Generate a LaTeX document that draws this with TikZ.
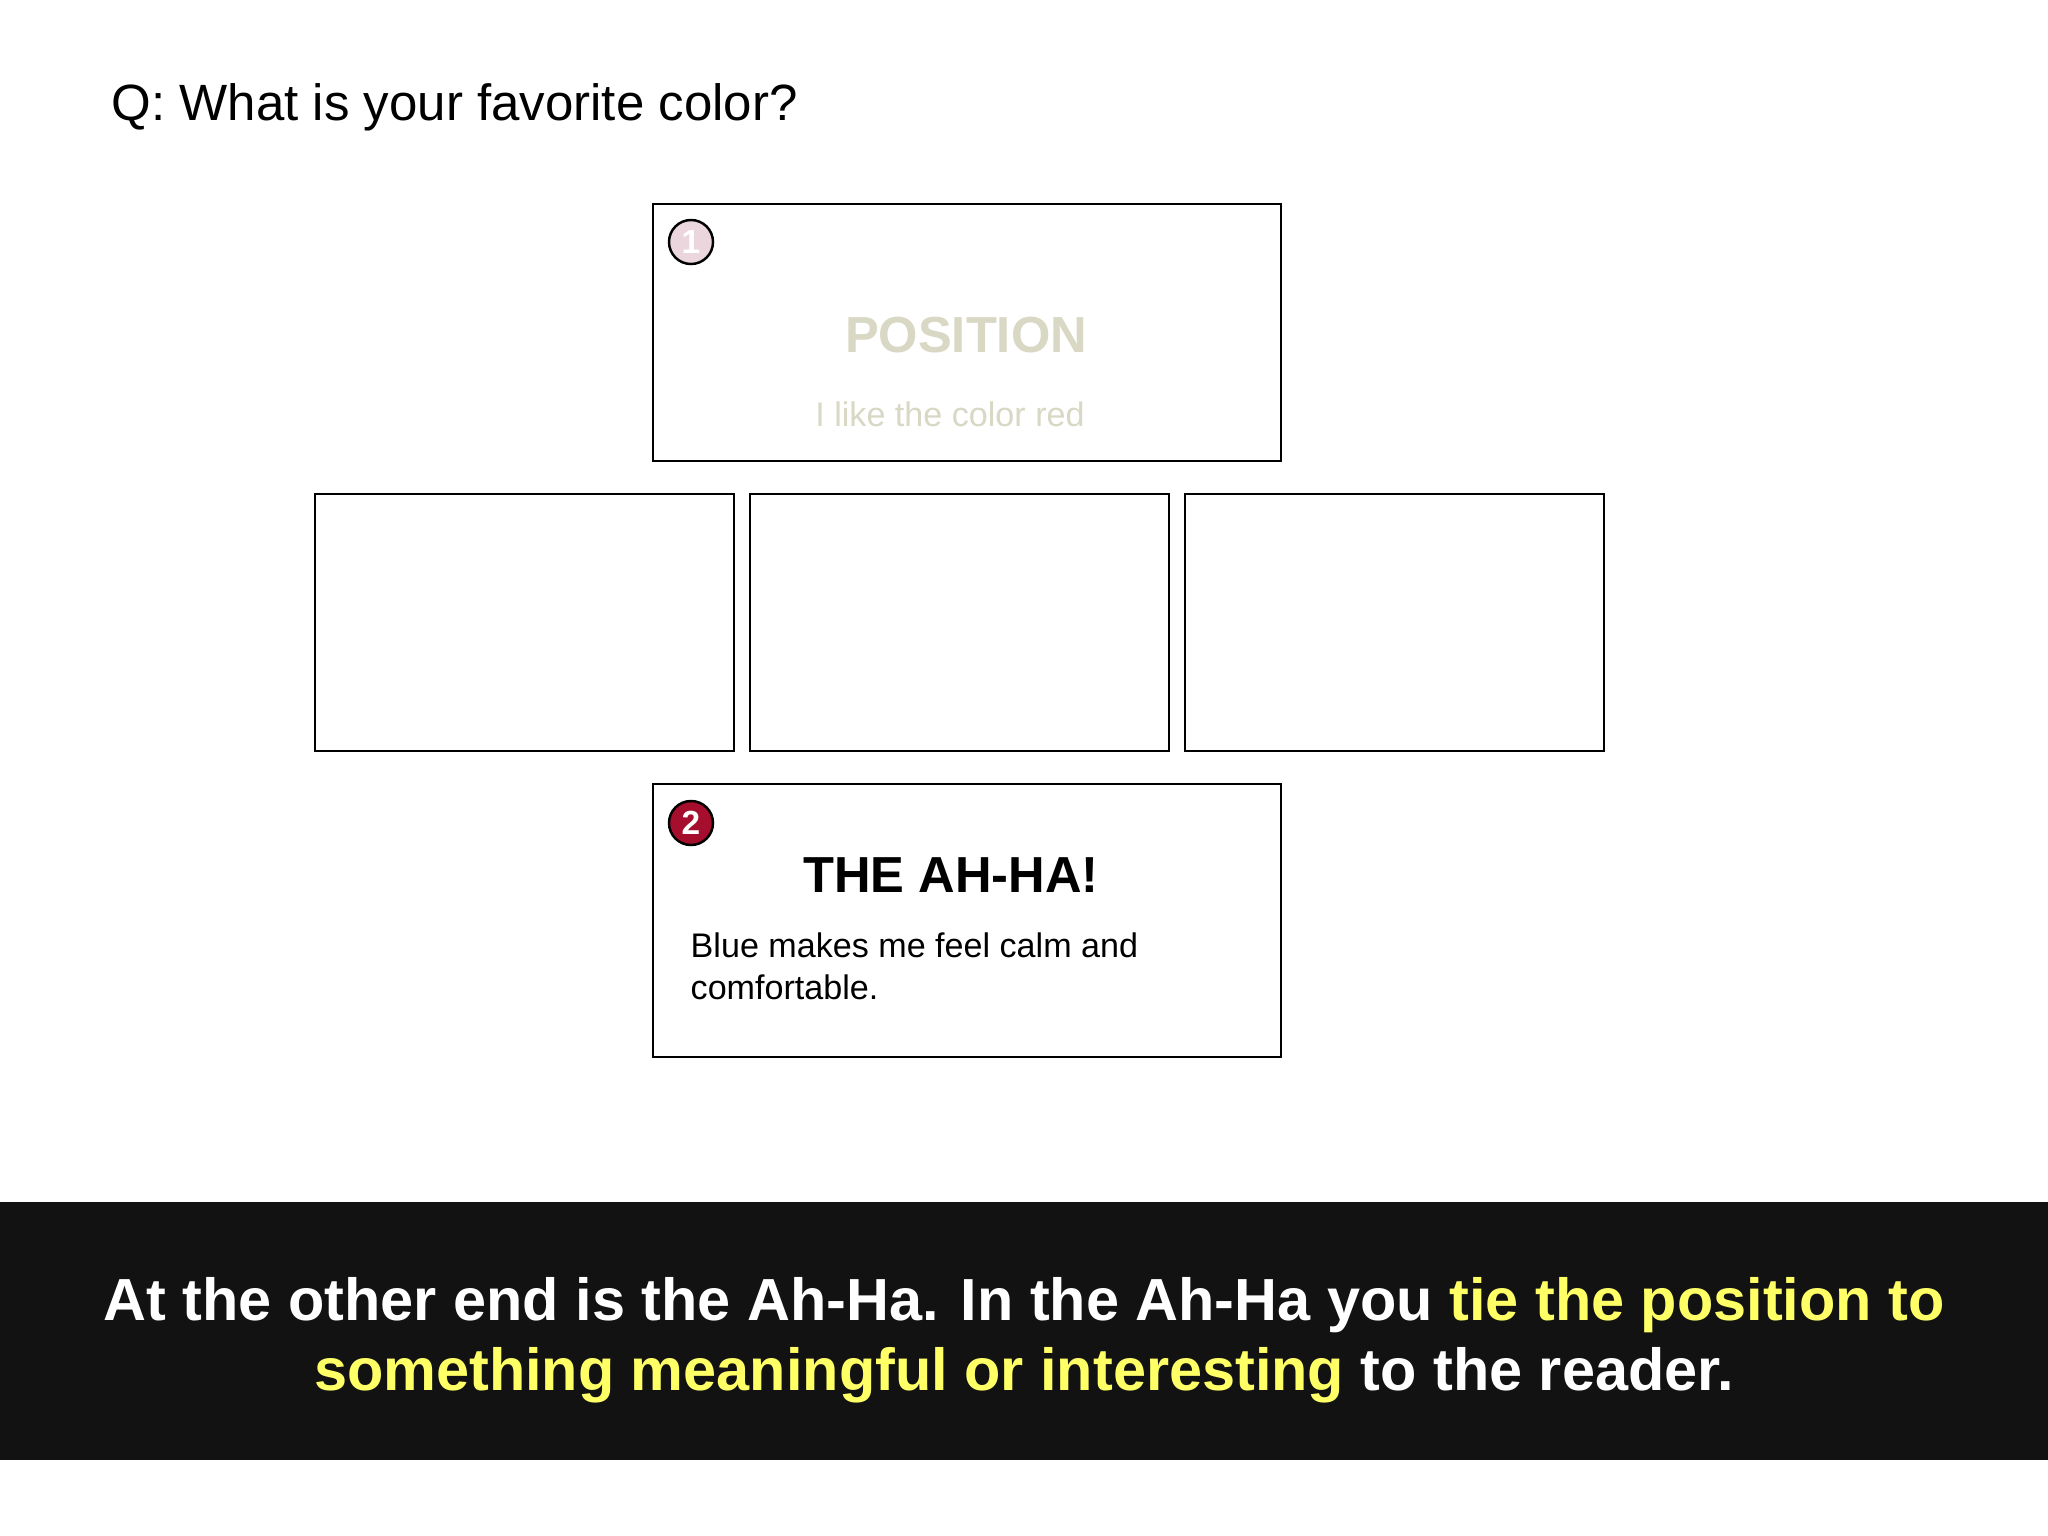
\documentclass[tikz,border=0pt]{standalone}
\usepackage{fontspec}
\setmainfont{Liberation Sans}
\usepackage{tikz}

\definecolor{fadedtext}{RGB}{216,216,196}
\definecolor{badgered}{RGB}{165,14,45}
\definecolor{badgepink}{RGB}{236,214,222}
\definecolor{bandblack}{RGB}{18,18,18}
\definecolor{hilite}{RGB}{255,255,102}

\begin{document}
\begin{tikzpicture}
        [x=0.01cm, y=-0.01cm, every node/.style={inner sep=0},
         card/.style={draw=black, line width=0.7pt, fill=white, minimum width=6.28cm, minimum height=2.57cm},
         smallcard/.style={card, minimum width=4.19cm},
         badge/.style={draw=black, line width=0.7pt, shape=circle, minimum size=0.44cm, text=white, font=\fontsize{9.5}{10}\selectfont\bfseries},
         heading/.style={anchor=base, font=\fontsize{14.4}{16}\selectfont\bfseries}]

        \useasboundingbox (0, 0) rectangle (2048, 1536);

        \node[anchor=base west, font=\fontsize{14.5}{16}\selectfont] (question) at (111, 120) {Q: What is your favorite color?};

        % position card
        \node[card] (position) at (967, 332.5) {};
        \node[badge, fill=badgepink] (one) at (691, 242) {1};
        \node[heading, text=fadedtext] (postitle) at (966, 352) {POSITION};
        \node[anchor=base, text=fadedtext, font=\fontsize{9.7}{11.7}\selectfont] (postext) at (950, 426) {I like the color red};

        % empty middle cards
        \node[smallcard] (left) at (524.5, 622.5) {};
        \node[smallcard] (middle) at (959.5, 622.5) {};
        \node[smallcard] (right) at (1394.5, 622.5) {};

        % ah-ha card
        \node[card, minimum height=2.73cm] (ahha) at (967, 920.5) {};
        \node[badge, fill=badgered] (two) at (691, 823) {2};
        \node[heading] (ahhatitle) at (951, 892) {THE AH-HA!};
        \node[anchor=north west, align=left, font=\fontsize{9.7}{11.9}\selectfont] (ahhatext) at (690, 932) {Blue makes me feel calm and\\comfortable.};

        % caption band
        \fill[bandblack] (0, 1202) rectangle (2048, 1460);
        \node[anchor=north, align=center, text=white, font=\fontsize{16.9}{19.9}\selectfont\bfseries] (caption) at (1024, 1277)
          {At the other end is the Ah-Ha. In the Ah-Ha you \textcolor{hilite}{tie the position to}\\
           \textcolor{hilite}{something meaningful or interesting} to the reader.};

      \end{tikzpicture}
\end{document}
